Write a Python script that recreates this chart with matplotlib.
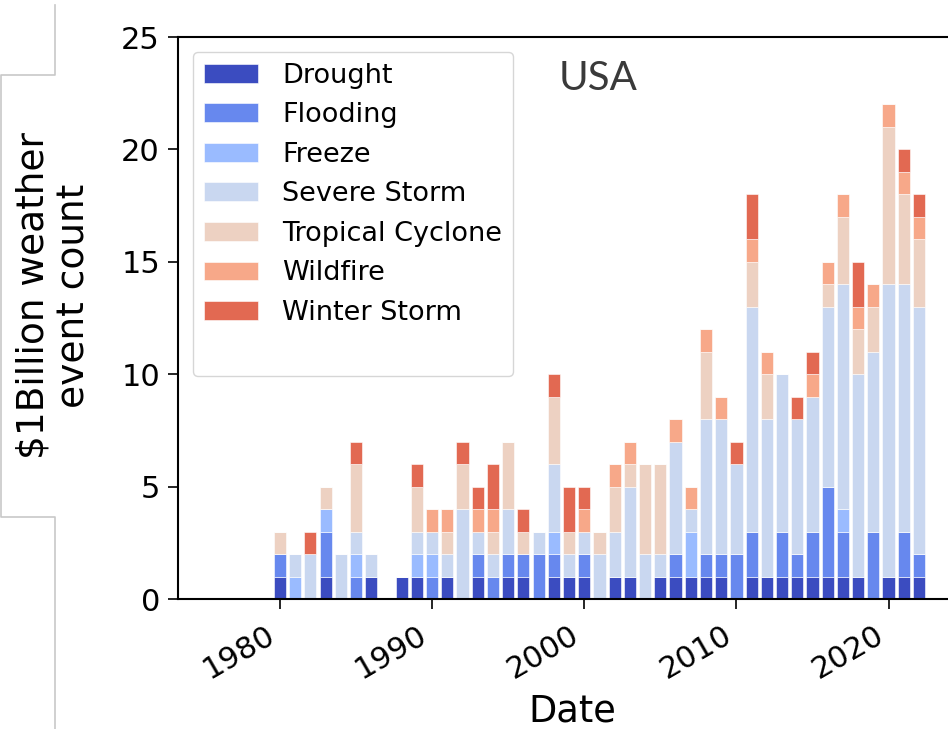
import numpy as np
import matplotlib
matplotlib.use("Agg")
import matplotlib.pyplot as plt
from matplotlib.patches import Patch
from matplotlib.lines import Line2D

years = list(range(1980, 2023))

drought = [1, 0, 0, 1, 0, 0, 1, 0, 1, 1,
           0, 1, 0, 1, 0, 1, 1, 0, 1, 1,
           1, 0, 1, 1, 0, 1, 1, 1, 1, 1,
           0, 1, 1, 1, 1, 1, 1, 1, 1, 0,
           1, 1, 1]
flooding = [1, 0, 0, 2, 0, 1, 0, 0, 0, 0,
            1, 0, 0, 1, 1, 1, 1, 2, 1, 0,
            1, 0, 0, 0, 0, 0, 1, 0, 1, 1,
            2, 2, 0, 2, 1, 2, 4, 2, 0, 3,
            0, 2, 1]
freeze = [0, 1, 0, 1, 0, 1, 0, 0, 0, 1,
          1, 0, 0, 0, 0, 0, 0, 0, 1, 0,
          0, 0, 0, 0, 0, 0, 0, 2, 0, 0,
          0, 0, 0, 0, 0, 0, 0, 1, 0, 0,
          0, 0, 0]
severe_storm = [0, 1, 2, 0, 2, 1, 1, 0, 0, 1,
                1, 1, 4, 1, 1, 2, 0, 1, 3, 1,
                1, 2, 2, 4, 2, 1, 5, 1, 6, 6,
                4, 10, 7, 7, 6, 6, 8, 10, 9, 8,
                13, 11, 11]
tropical_cyclone = [1, 0, 0, 1, 0, 3, 0, 0, 0, 2,
                    0, 1, 2, 0, 1, 3, 1, 0, 3, 1,
                    0, 1, 2, 1, 4, 4, 0, 0, 3, 0,
                    0, 2, 2, 0, 0, 0, 1, 3, 2, 2,
                    7, 4, 3]
wildfire = [0, 0, 0, 0, 0, 0, 0, 0, 0, 0,
            1, 1, 0, 1, 1, 0, 0, 0, 0, 0,
            1, 0, 1, 1, 0, 0, 1, 1, 1, 1,
            0, 1, 1, 0, 0, 1, 1, 1, 1, 1,
            1, 1, 1]
winter_storm = [0, 0, 1, 0, 0, 1, 0, 0, 0, 1,
                0, 0, 1, 1, 2, 0, 1, 0, 1, 2,
                1, 0, 0, 0, 0, 0, 0, 0, 0, 0,
                1, 2, 0, 0, 1, 1, 0, 0, 2, 0,
                0, 1, 1]

categories = ['Drought', 'Flooding', 'Freeze', 'Severe Storm',
              'Tropical Cyclone', 'Wildfire', 'Winter Storm']
series = [drought, flooding, freeze, severe_storm,
          tropical_cyclone, wildfire, winter_storm]
colors = ['#3b4cc0', '#6788ee', '#9abbff', '#c9d7f0',
          '#edd1c2', '#f7a889', '#e26952']

fig = plt.figure(figsize=(9.48, 7.29), dpi=100)
ax = fig.add_axes([0.1878, 0.1783, 0.832, 0.7709])

# Stacked bars, one per year
bottom = np.zeros(len(years))
handles = []
for name, vals, col in zip(categories, series, colors):
    ax.bar(years, vals, bottom=bottom, width=0.8, color=col,
           edgecolor='white', linewidth=0.4)
    bottom += np.array(vals)
    handles.append(Patch(facecolor=col, edgecolor='white', linewidth=0.4, label=name))

# blank row at the bottom of the legend, as in the original
handles.append(Patch(facecolor='none', edgecolor='none', label=' '))

ax.set_xlim(1973.3, 2025.14)
ax.set_ylim(0, 25)
ax.set_yticks([0, 5, 10, 15, 20, 25])
ax.set_xticks([1980, 1990, 2000, 2010, 2020])
ax.tick_params(axis='both', labelsize=22, length=7, width=1.2)
ax.tick_params(axis='y', pad=6)
ax.tick_params(axis='x', pad=8)
for lbl in ax.get_xticklabels():
    lbl.set_rotation(30)
    lbl.set_ha('right')
for sp in ax.spines.values():
    sp.set_linewidth(1.5)

ax.set_xlabel('Date', fontsize=26.5, labelpad=6)
ax.set_ylabel('$1Billion weather\nevent count', fontsize=27)
ax.yaxis.set_label_coords(-0.108, 0.54)

ax.legend(handles=handles, loc='upper left', fontsize=19.5,
          borderaxespad=0.55, handletextpad=0.9)

# panel title placed in figure pixel coordinates
fig.text(598 / 948, 1 - 78 / 729, 'USA', fontsize=29, family='Lato',
         color='#3a3a3a', ha='center', va='center')

# grey frame lines left of the plot (from the cropped source panel)
W, H = 948, 729
pts = [(55, 5), (55, 75), (1, 75), (1, 517), (55, 517), (55, 729)]
xs = [p[0] / W for p in pts]
ys = [1 - p[1] / H for p in pts]
fig.add_artist(Line2D(xs, ys, transform=fig.transFigure, color='#c8c8c8', linewidth=1.2))

fig.savefig('out.png', dpi=100)
